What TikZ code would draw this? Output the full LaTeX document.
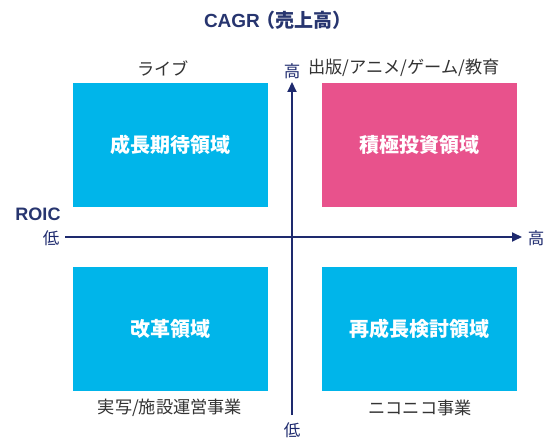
\documentclass[tikz,border=0pt]{standalone}
\usepackage{fontspec}
\setmainfont{Liberation Sans}
\newfontfamily\jp{Noto Sans CJK JP}
\usetikzlibrary{arrows.meta}
\definecolor{cyanbox}{HTML}{00B5EA}
\definecolor{pinkbox}{HTML}{E8528C}
\definecolor{navy}{HTML}{1E2A6E}
\definecolor{titlec}{HTML}{27356F}
\definecolor{labelc}{HTML}{333333}
\tikzset{
  quad/.style={minimum width=195pt, minimum height=124pt, inner sep=0pt, text=white, font=\jp\bfseries\fontsize{20}{24}\selectfont},
  lab/.style={text=labelc, font=\jp\fontsize{17.2}{20}\selectfont, inner sep=0pt},
  axlab/.style={text=navy, font=\jp\fontsize{16.5}{20}\selectfont, inner sep=0pt},
  axis/.style={draw=navy, line width=2pt, -{Triangle[length=10pt,width=9pt]}}
}
\begin{document}
\begin{tikzpicture}[x=1pt,y=-1pt]
\useasboundingbox (0,0) rectangle (544,441);
\fill[white] (0,0) rectangle (544,441);
\node[quad, fill=cyanbox] (tl) at (170.5,145) {成長期待領域};
\node[quad, fill=pinkbox] (tr) at (419.5,145) {積極投資領域};
\node[quad, fill=cyanbox] (bl) at (170.5,328.5) {改革領域};
\node[quad, fill=cyanbox] (br) at (419.5,328.5) {再成長検討領域};
\coordinate (vb) at (292,415);
\coordinate (vt) at (292,82);
\coordinate (hl) at (65,237);
\coordinate (hr) at (522,237);
\draw[axis] (vb) -- (vt);
\draw[axis] (hl) -- (hr);
\node[font=\bfseries\fontsize{19}{22}\selectfont, text=titlec, inner sep=0pt] (title) at (278,20) {CAGR{\jp\kern-3pt（売上高）}};
\node[font=\bfseries\fontsize{18}{21}\selectfont, text=titlec, inner sep=0pt] (roic) at (38,214) {ROIC};
\node[axlab] (lowx) at (51,238) {低};
\node[axlab] (highx) at (536,238) {高};
\node[axlab] (highy) at (292,71) {高};
\node[axlab] (lowy) at (292,430) {低};
\node[lab] (l1) at (163,68) {ライブ};
\node[lab] (l2) at (404,68) {出版/アニメ/ゲーム/教育};
\node[lab] (l3) at (170,408) {実写/施設運営事業};
\node[lab] (l4) at (420,408) {ニコニコ事業};
\end{tikzpicture}
\end{document}
